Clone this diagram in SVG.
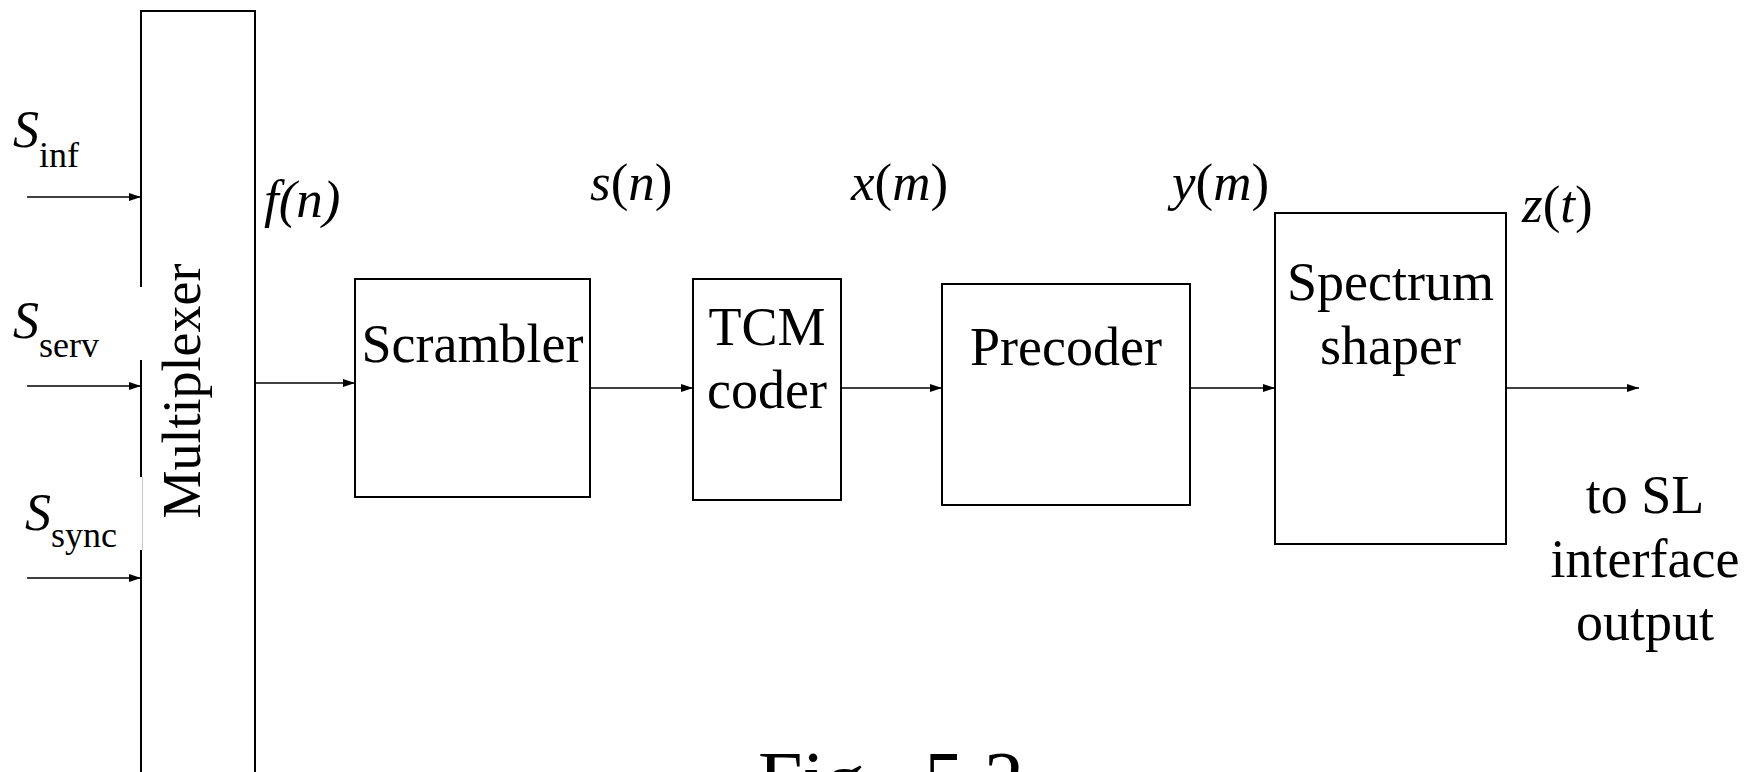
<svg xmlns="http://www.w3.org/2000/svg" width="1748" height="772" viewBox="0 0 1748 772">
<style>
  .box { fill: #ffffff; stroke: #000000; stroke-width: 2; }
  .edge { fill: none; stroke: #000000; stroke-width: 1.6; }
  .t { font-family: "Liberation Serif", "Times New Roman", serif; font-size: 54px; fill: #000000; }
  .lbl { font-family: "Liberation Serif", "Times New Roman", serif; font-size: 53px; fill: #000000; }
  .sym { font-family: "Liberation Serif", "Times New Roman", serif; font-size: 52px; fill: #000000; }
  .it { font-style: italic; }
  .sub { font-size: 36px; font-style: normal; }
  .mid { text-anchor: middle; }
</style>
<defs>
  <marker id="arr" markerUnits="userSpaceOnUse" markerWidth="13" markerHeight="9" refX="12" refY="4" orient="auto">
    <path d="M0,0 L12,4 L0,8 Z" fill="#000000"/>
  </marker>
</defs>
<rect width="1748" height="772" fill="#ffffff"/>

<g id="multiplexer">
  <rect class="box" x="141" y="11" width="114" height="800"/>
  <rect x="137" y="287" width="7" height="73" fill="#ffffff"/>
  <rect x="137" y="477" width="7" height="73" fill="#ffffff"/>
  <line x1="142.5" y1="477" x2="142.5" y2="550" stroke="#c8c8c8" stroke-width="1"/>
  <text class="t mid" transform="translate(200,391) rotate(-90)">Multiplexer</text>
</g>

<g id="input-labels">
  <text class="sym" x="13" y="147"><tspan class="it">S</tspan><tspan class="sub" dy="20">inf</tspan></text>
  <text class="sym" x="13" y="338"><tspan class="it">S</tspan><tspan class="sub" dy="19">serv</tspan></text>
  <text class="sym" x="25" y="530"><tspan class="it">S</tspan><tspan class="sub" dy="17">sync</tspan></text>
</g>

<g id="scrambler">
  <rect class="box" x="355" y="279" width="235" height="218"/>
  <text class="t mid" x="472.5" y="362">Scrambler</text>
</g>

<g id="tcm-coder">
  <rect class="box" x="693" y="279" width="148" height="221"/>
  <text class="t mid" x="767" y="345">TCM</text>
  <text class="t mid" x="767" y="408">coder</text>
</g>

<g id="precoder">
  <rect class="box" x="942" y="284" width="248" height="221"/>
  <text class="t mid" x="1066" y="365">Precoder</text>
</g>

<g id="spectrum-shaper">
  <rect class="box" x="1275" y="213" width="231" height="331"/>
  <text class="t mid" x="1390.5" y="300">Spectrum</text>
  <text class="t mid" x="1390.5" y="364">shaper</text>
</g>

<g id="output-label">
  <text class="t mid" x="1645" y="513">to SL</text>
  <text class="t mid" x="1645" y="577">interface</text>
  <text class="t mid" x="1645" y="640">output</text>
</g>

<g id="connectors">
  <line class="edge" x1="27" y1="197" x2="141" y2="197" marker-end="url(#arr)"/>
  <line class="edge" x1="27" y1="386" x2="141" y2="386" marker-end="url(#arr)"/>
  <line class="edge" x1="27" y1="578" x2="141" y2="578" marker-end="url(#arr)"/>
  <line class="edge" x1="255" y1="383" x2="355" y2="383" marker-end="url(#arr)"/>
  <line class="edge" x1="590" y1="388" x2="693" y2="388" marker-end="url(#arr)"/>
  <line class="edge" x1="841" y1="388" x2="942" y2="388" marker-end="url(#arr)"/>
  <line class="edge" x1="1190" y1="388" x2="1275" y2="388" marker-end="url(#arr)"/>
  <line class="edge" x1="1506" y1="388" x2="1639" y2="388" marker-end="url(#arr)"/>
</g>

<g id="signal-labels">
  <text class="lbl it" x="264" y="217">f(n)</text>
  <text class="lbl" x="590" y="200"><tspan class="it">s</tspan>(<tspan class="it">n</tspan>)</text>
  <text class="lbl" x="851" y="200"><tspan class="it">x</tspan>(<tspan class="it">m</tspan>)</text>
  <text class="lbl" x="1172" y="200"><tspan class="it">y</tspan>(<tspan class="it">m</tspan>)</text>
  <text class="lbl" x="1522" y="222"><tspan class="it">z</tspan>(<tspan class="it">t</tspan>)</text>
</g>

<g id="caption">
  <text class="t" style="font-size:80px" y="807"><tspan x="758">Fig. </tspan><tspan x="924">5.2</tspan></text>
</g>
</svg>
